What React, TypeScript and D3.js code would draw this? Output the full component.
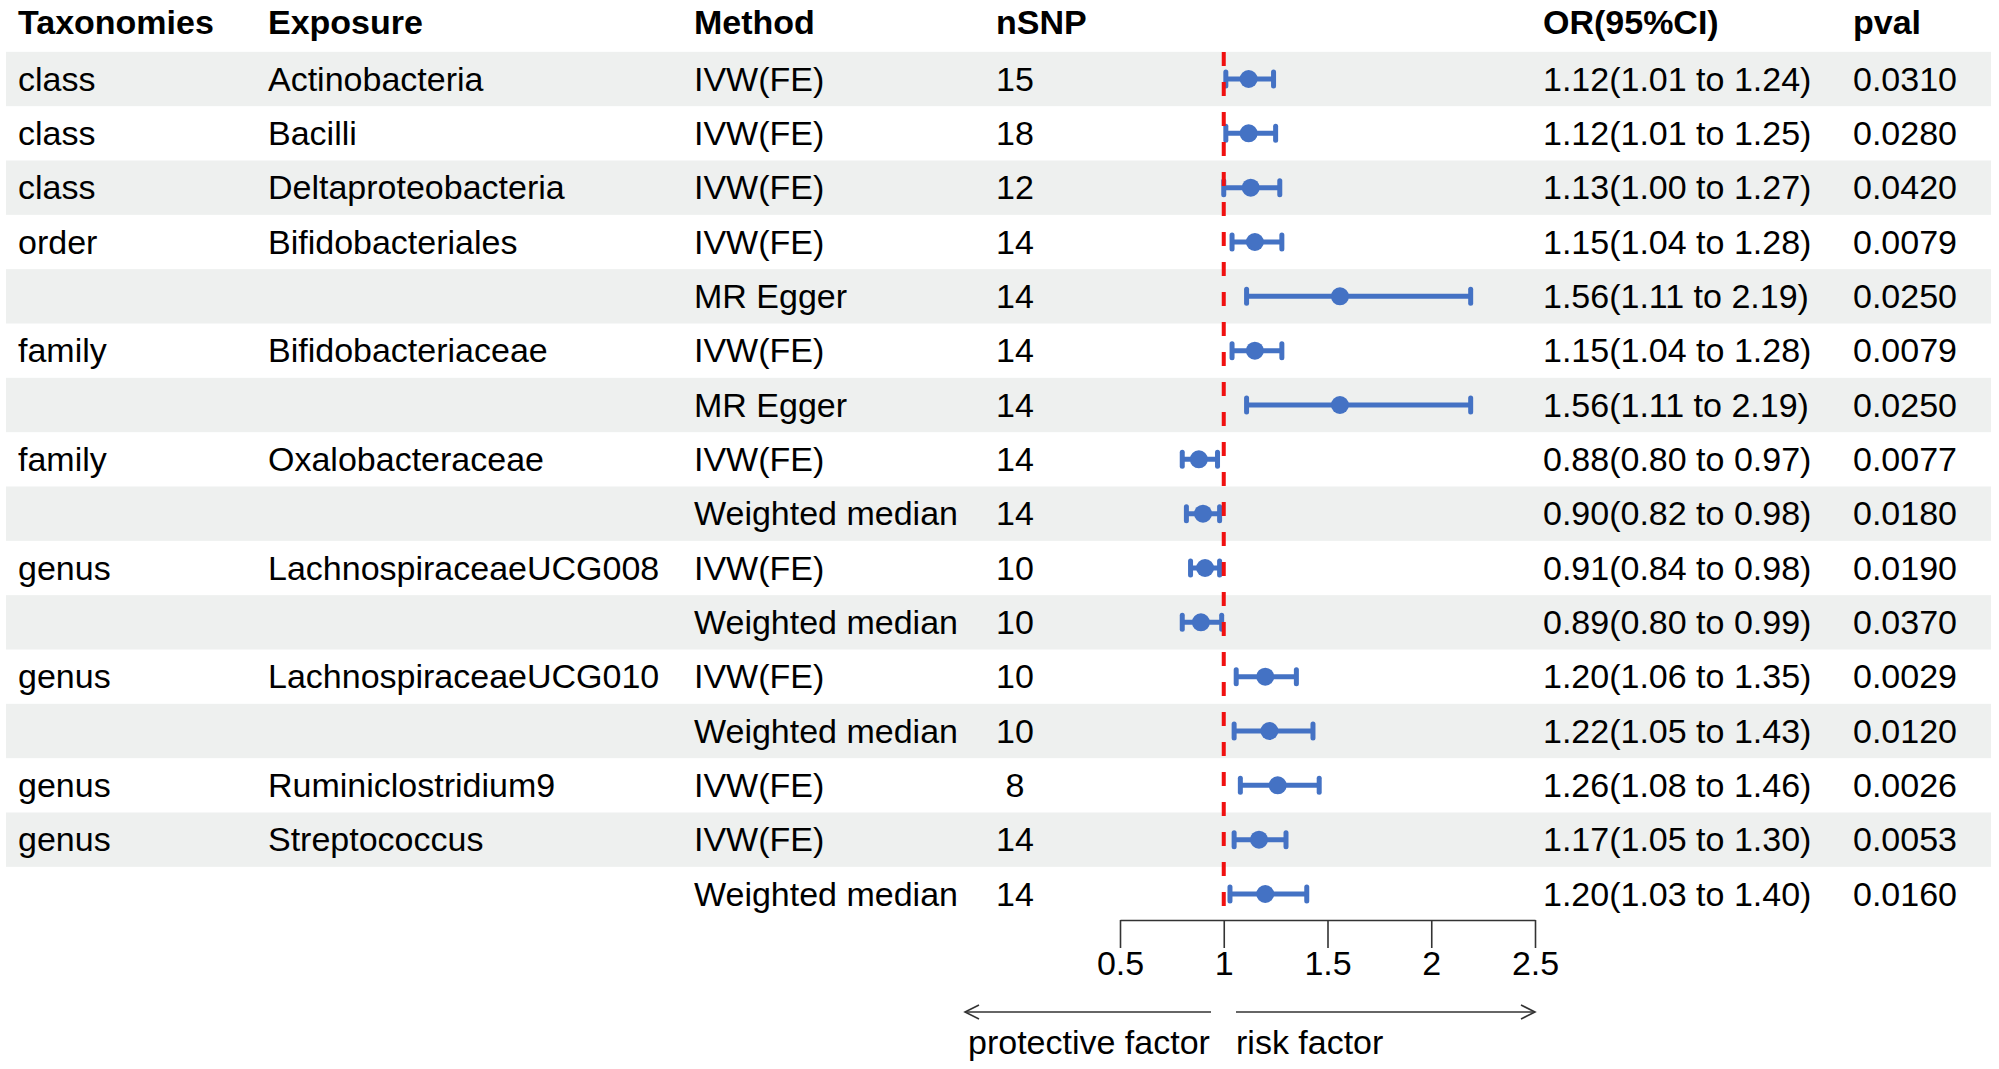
import React, { useEffect, useRef } from 'react';
import * as d3 from 'd3';

// table columns
const taxonomies = ['class', 'class', 'class', 'order', '', 'family', '', 'family', '', 'genus', '', 'genus', '', 'genus', 'genus', ''];
const exposures = ['Actinobacteria', 'Bacilli', 'Deltaproteobacteria', 'Bifidobacteriales', '', 'Bifidobacteriaceae', '', 'Oxalobacteraceae', '', 'LachnospiraceaeUCG008', '', 'LachnospiraceaeUCG010', '', 'Ruminiclostridium9', 'Streptococcus', ''];
const methods = ['IVW(FE)', 'IVW(FE)', 'IVW(FE)', 'IVW(FE)', 'MR Egger', 'IVW(FE)', 'MR Egger', 'IVW(FE)', 'Weighted median', 'IVW(FE)', 'Weighted median', 'IVW(FE)', 'Weighted median', 'IVW(FE)', 'IVW(FE)', 'Weighted median'];
const nSNP = [15, 18, 12, 14, 14, 14, 14, 14, 14, 10, 10, 10, 10, 8, 14, 14];

// estimates
const orValues = [1.12, 1.12, 1.13, 1.15, 1.56, 1.15, 1.56, 0.88, 0.90, 0.91, 0.89, 1.20, 1.22, 1.26, 1.17, 1.20];
const ciLower = [1.01, 1.01, 1.00, 1.04, 1.11, 1.04, 1.11, 0.80, 0.82, 0.84, 0.80, 1.06, 1.05, 1.08, 1.05, 1.03];
const ciUpper = [1.24, 1.25, 1.27, 1.28, 2.19, 1.28, 2.19, 0.97, 0.98, 0.98, 0.99, 1.35, 1.43, 1.46, 1.30, 1.40];
const pvals = [0.031, 0.028, 0.042, 0.0079, 0.025, 0.0079, 0.025, 0.0077, 0.018, 0.019, 0.037, 0.0029, 0.012, 0.0026, 0.0053, 0.016];

const xTicks = [0.5, 1, 1.5, 2, 2.5];

const W = 1999;
const H = 1069;
const FONT = "'Liberation Sans', Arial, Helvetica, sans-serif";
const FS = 34;
const BLUE = '#4472c4';

const App: React.FC = () => {
  const axisRef = useRef<SVGGElement>(null);

  const x = d3.scaleLinear().domain([0.5, 2.5]).range([1120, 1535]);
  const y = d3.scaleLinear().domain([0, 15]).range([79, 894]);
  const rowH = y(1) - y(0);
  const axisY = 920;

  useEffect(() => {
    if (!axisRef.current) return;
    const g = d3.select(axisRef.current);
    g.selectAll('*').remove();
    g.call(
      d3.axisBottom(x)
        .tickValues(xTicks)
        .tickFormat(d => String(d))
        .tickSize(28)
        .tickSizeOuter(0)
        .tickPadding(3)
    );
    g.select('.domain').attr('stroke', '#333').attr('stroke-width', 1.6);
    g.selectAll('.tick line').attr('stroke', '#333').attr('stroke-width', 1.6);
    g.selectAll('.tick text').attr('fill', '#000').attr('font-size', FS).attr('font-family', FONT);
  }, []);

  const cols = { tax: 18, exp: 268, meth: 694, snp: 996, snpMid: 1015, or: 1543, p: 1853 };
  const arrowY = 1012;

  return (
    <div style={{ position: 'absolute', left: 0, top: 0 }}>
      <svg width={W} height={H} style={{ display: 'block', background: '#fff' }} fontFamily={FONT}>
        {/* row shading */}
        {methods.map((_, i) =>
          i % 2 === 0 ? (
            <rect key={'bg' + i} x={6} y={y(i) - rowH / 2} width={1985} height={rowH} fill="#eef0ef" />
          ) : null
        )}

        {/* header */}
        <g fontWeight="bold" fontSize={FS} fill="#000">
          <text x={cols.tax} y={34}>Taxonomies</text>
          <text x={cols.exp} y={34}>Exposure</text>
          <text x={cols.meth} y={34}>Method</text>
          <text x={cols.snp} y={34}>nSNP</text>
          <text x={cols.or} y={34}>OR(95%CI)</text>
          <text x={cols.p} y={34}>pval</text>
        </g>

        {/* table text */}
        <g fontSize={FS} fill="#000">
          {methods.map((m, i) => (
            <g key={'row' + i} transform={`translate(0,${y(i) + 11.5})`}>
              <text x={cols.tax}>{taxonomies[i]}</text>
              <text x={cols.exp}>{exposures[i]}</text>
              <text x={cols.meth}>{m}</text>
              <text x={cols.snpMid} textAnchor="middle">{nSNP[i]}</text>
              <text x={cols.or}>
                {`${orValues[i].toFixed(2)}(${ciLower[i].toFixed(2)} to ${ciUpper[i].toFixed(2)})`}
              </text>
              <text x={cols.p}>{pvals[i].toFixed(4)}</text>
            </g>
          ))}
        </g>

        {/* error bars */}
        {orValues.map((v, i) => (
          <g key={'ci' + i} stroke={BLUE} fill={BLUE}>
            <line x1={x(ciLower[i])} x2={x(ciUpper[i])} y1={y(i)} y2={y(i)} strokeWidth={5} />
            <line x1={x(ciLower[i])} x2={x(ciLower[i])} y1={y(i) - 7} y2={y(i) + 7} strokeWidth={5} strokeLinecap="round" />
            <line x1={x(ciUpper[i])} x2={x(ciUpper[i])} y1={y(i) - 7} y2={y(i) + 7} strokeWidth={5} strokeLinecap="round" />
            <circle cx={x(v)} cy={y(i)} r={9} stroke="none" />
          </g>
        ))}

        {/* reference line */}
        <line x1={x(1)} x2={x(1)} y1={52} y2={912} stroke="#f01010" strokeWidth={4} strokeDasharray="14,16" />

        {/* axis */}
        <g ref={axisRef} transform={`translate(0,${axisY})`} />

        {/* direction arrows */}
        <g stroke="#333" strokeWidth={1.6} fill="none">
          <line x1={965} x2={1211} y1={arrowY} y2={arrowY} />
          <polyline points={`${979},${arrowY - 7} ${965},${arrowY} ${979},${arrowY + 7}`} />
          <line x1={1236} x2={1535} y1={arrowY} y2={arrowY} />
          <polyline points={`${1521},${arrowY - 7} ${1535},${arrowY} ${1521},${arrowY + 7}`} />
        </g>
        <g fontSize={FS} fill="#000">
          <text x={968} y={1054}>protective factor</text>
          <text x={1236} y={1054}>risk factor</text>
        </g>
      </svg>
    </div>
  );
};

export default App;
